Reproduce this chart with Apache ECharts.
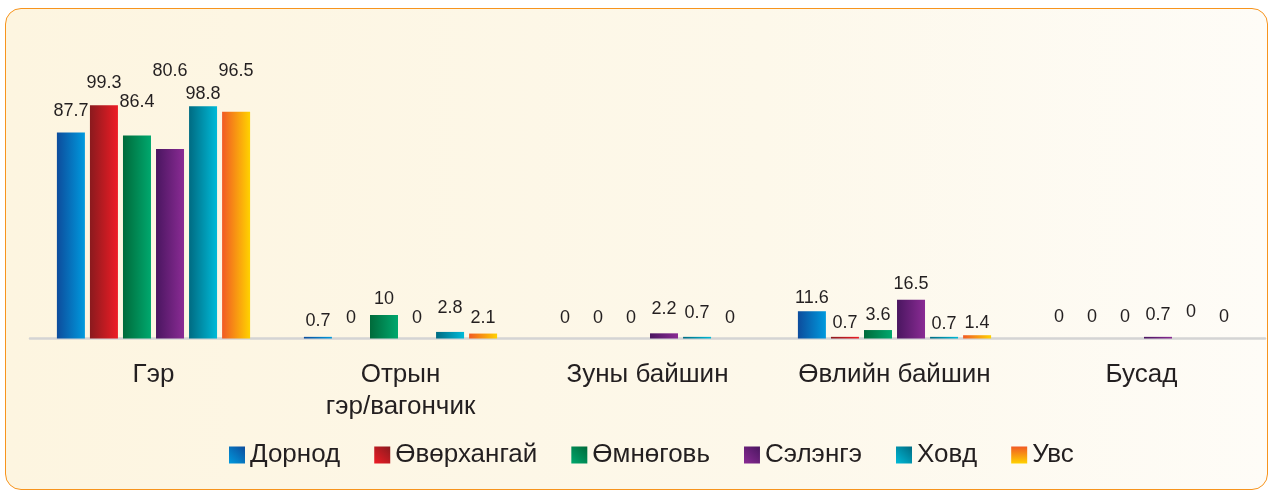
<!DOCTYPE html>
<html>
<head>
<meta charset="utf-8">
<script src="https://cdn.jsdelivr.net/npm/echarts@6/dist/echarts.min.js"></script>
<style>
  html, body { margin: 0; padding: 0; background: #ffffff; }
  #frame {
    position: absolute; left: 5px; top: 8px; width: 1261px; height: 480px;
    border: 1.5px solid #f7941d; border-radius: 16px;
    background: linear-gradient(to right, #fdf5e0 0%, #fdf8ea 60%, #fefcf7 100%);
  }
  #chart { position: absolute; left: 0; top: 0; width: 1272px; height: 492px; }
</style>
</head>
<body>
<div id="frame"></div>
<div id="chart"></div>
<script>
// ---- data ----
const categories = ['Гэр', 'Отрын\nгэр/вагончик', 'Зуны байшин', 'Өвлийн байшин', 'Бусад'];
const seriesNames = ['Дорнод', 'Өвөрхангай', 'Өмнөговь', 'Сэлэнгэ', 'Ховд', 'Увс'];
const dornod      = [87.7, 0.7, 0,   11.6, 0];
const uvurkhangai = [99.3, 0,   0,   0.7,  0];
const umnugovi    = [86.4, 10,  0,   3.6,  0];
const selenge     = [80.6, 0,   2.2, 16.5, 0.7];
const khovd       = [98.8, 2.8, 0.7, 0.7,  0];
const uvs         = [96.5, 2.1, 0,   1.4,  0];
const seriesValues = [dornod, uvurkhangai, umnugovi, selenge, khovd, uvs];

// ---- styles (label vertical nudges, colours) ----
const labelNudge = [
  [-7,   -1.5, -6.5,  1,  -7],
  [-8.5, -6.5, -6.5,  0,  -7],
  [-19,  -2,   -6.5, -1,  -7],
  [-64.5,-6.5, -10.5,-2,  -7.5],
  [2,    -9.5, -10,   1,  -12],
  [-27,  -1.5, -6.5,  2,  -7]
];
const FONT = "'Liberation Sans', Arial, sans-serif";
function lg(x, y, x2, y2, c1, c2) {
  return new echarts.graphic.LinearGradient(x, y, x2, y2, [
    { offset: 0, color: c1 }, { offset: 1, color: c2 }
  ]);
}
const colorPairs = [
  ['#0d4c9c', '#009ade'],
  ['#8a1a1e', '#ee1c25'],
  ['#006a3a', '#00a86e'],
  ['#4a1660', '#8a2b94'],
  ['#006b82', '#00bad8'],
  ['#f15a24', '#ffd200']
];
const barGradients = colorPairs.map(c => lg(0, 0, 1, 0, c[0], c[1]));
const legendGradients = colorPairs.map((c, i) => i === 5 ? lg(0, 0, 0, 1, c[0], c[1]) : lg(1, 0, 0, 1, c[0], c[1]));

const chart = echarts.init(document.getElementById('chart'), null, { renderer: 'canvas' });

const series = seriesNames.map((name, si) => ({
  name: name,
  type: 'bar',
  barWidth: 28,
  barGap: '18%',
  itemStyle: { color: barGradients[si] },
  emphasis: { disabled: true },
  data: seriesValues[si].map((v, ci) => ({
    value: v,
    label: { offset: [0, labelNudge[si][ci]] }
  })),
  label: {
    show: true,
    position: 'top',
    distance: 5,
    fontFamily: FONT,
    fontSize: 18,
    color: '#231f20',
    formatter: p => String(p.value)
  }
}));

chart.setOption({
  backgroundColor: 'transparent',
  animation: false,
  textStyle: { fontFamily: FONT },
  grid: { left: 30, width: 1235, top: 103.5, bottom: 153.5, containLabel: false },
  legend: {
    left: 224,
    top: 437,
    itemWidth: 16,
    itemHeight: 17,
    itemGap: 34,
    icon: 'rect',
    textStyle: { fontSize: 26, color: '#231f20', fontFamily: FONT },
    data: seriesNames.map((n, i) => ({ name: n, itemStyle: { color: legendGradients[i] } }))
  },
  xAxis: {
    type: 'category',
    data: categories,
    axisLine: { show: true, lineStyle: { color: '#d4d4d4', width: 2.5 } },
    axisTick: { show: false },
    axisLabel: {
      margin: 20,
      fontSize: 26,
      lineHeight: 32,
      color: '#231f20',
      fontFamily: FONT,
      interval: 0
    }
  },
  yAxis: {
    type: 'value',
    min: 0,
    max: 100,
    show: false,
    splitLine: { show: false }
  },
  series: series
});
</script>
</body>
</html>
